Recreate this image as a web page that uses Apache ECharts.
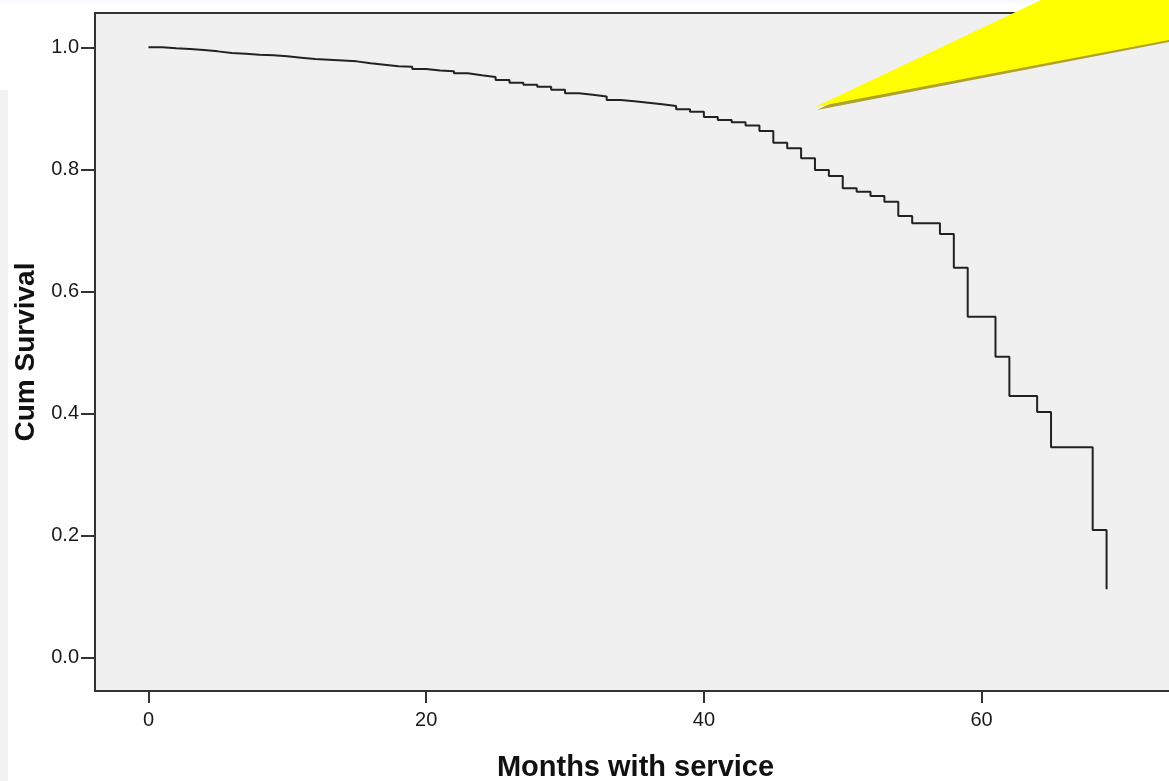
<!DOCTYPE html>
<html>
<head>
<meta charset="utf-8">
<title>Survival Function</title>
<script src="https://cdn.jsdelivr.net/npm/echarts@6/dist/echarts.min.js"></script>
<style>
  html, body { margin: 0; padding: 0; background: #fff; }
  #main { width: 1169px; height: 781px; }
</style>
</head>
<body>
<div id="main"></div>
<script>
// event times (months) and cumulative survival after each step
var months = [0, 1, 2, 3, 4, 5, 6, 7, 8, 9, 10, 11, 12, 13, 14, 15, 16, 17, 18, 19,
  20, 21, 22, 23, 24, 25, 26, 27, 28, 29, 30, 31, 32, 33, 34, 35, 36, 37, 38, 39,
  40, 41, 42, 43, 44, 45, 46, 47, 48, 49, 50, 51, 52, 53, 54, 55, 57, 58, 59, 61,
  62, 64, 65, 68, 69];
var survival = [1.000, 0.9984, 0.9972, 0.9956, 0.9934, 0.9907, 0.9895, 0.9879, 0.9869, 0.9852,
  0.9830, 0.9808, 0.9797, 0.9786, 0.9770, 0.9738, 0.9715, 0.9689, 0.9680, 0.9644,
  0.9620, 0.9607, 0.9574, 0.9543, 0.9515, 0.9464, 0.9420, 0.9387, 0.9354, 0.9305,
  0.9246, 0.9223, 0.9196, 0.9136, 0.9118, 0.9092, 0.9066, 0.9040, 0.8984, 0.8944,
  0.8860, 0.8808, 0.8772, 0.8718, 0.8630, 0.8436, 0.8344, 0.8180, 0.7989, 0.7890,
  0.7689, 0.7633, 0.7562, 0.7469, 0.7234, 0.7115, 0.6939, 0.6387, 0.5584, 0.4928,
  0.4284, 0.4021, 0.3443, 0.2087, 0.1115];
var xTicks = [0, 20, 40, 60];
var yTicks = [0, 0.2, 0.4, 0.6, 0.8, 1.0];

var frameColor = '#333';
var labelFont = { color: '#1a1a1a', fontSize: 20, fontFamily: 'Liberation Sans, Arial, sans-serif' };
var titleFont = { color: '#111', fontSize: 28, fontWeight: 'bold', fontFamily: 'Liberation Sans, Arial, sans-serif' };

var myChart = echarts.init(document.getElementById('main'));

var option = {
  backgroundColor: '#fff',
  animation: false,
  grid: {
    left: 95,
    top: 13,
    right: -7,
    bottom: 90,
    outerBoundsMode: 'none',
    containLabel: false,
    show: true,
    backgroundColor: '#f0f0f0',
    borderColor: frameColor,
    borderWidth: 2
  },
  xAxis: {
    type: 'value',
    min: -3.85,
    max: 74,
    name: 'Months with service',
    nameLocation: 'middle',
    nameGap: 62,
    nameTextStyle: Object.assign({}, titleFont, { fontSize: 29 }),
    axisLine: { show: true, onZero: false, lineStyle: { color: frameColor, width: 2 } },
    axisTick: { show: true, customValues: xTicks, length: 12, lineStyle: { color: frameColor, width: 2 } },
    axisLabel: Object.assign({ customValues: xTicks, margin: 19 }, labelFont),
    splitLine: { show: false }
  },
  yAxis: {
    type: 'value',
    min: -0.0552,
    max: 1.0563,
    name: 'Cum Survival',
    nameLocation: 'middle',
    nameGap: 55,
    nameTextStyle: titleFont,
    axisLine: { show: true, onZero: false, lineStyle: { color: frameColor, width: 2 } },
    axisTick: { show: true, customValues: yTicks, length: 14, lineStyle: { color: frameColor, width: 2 } },
    axisLabel: Object.assign({
      customValues: yTicks,
      margin: 16,
      formatter: function (v) { return v.toFixed(1); }
    }, labelFont),
    splitLine: { show: false }
  },
  series: [{
    type: 'line',
    step: 'end',
    symbol: 'none',
    data: months.map(function (m, i) { return [m, survival[i]]; }),
    lineStyle: { color: '#222', width: 2 }
  }],
  graphic: [
    // thin grey strip on the left page edge
    { type: 'rect', left: 0, top: 90, shape: { width: 8, height: 691 }, style: { fill: '#f2f2f2' }, z: 1 },
    { type: 'rect', left: 0, top: 0, shape: { width: 1169, height: 3 }, style: { fill: '#f7f9fc' }, z: 1 },
    // yellow callout pointer with olive shadow
    { type: 'polygon', shape: { points: [[817, 110], [1043, 3], [1169, 3], [1169, 42]] }, style: { fill: '#aea22a' }, z: 100 },
    { type: 'polygon', shape: { points: [[815, 107], [1041, 0], [1169, 0], [1169, 40]] }, style: { fill: '#ffff00' }, z: 101 }
  ]
};

myChart.setOption(option);
</script>
</body>
</html>
